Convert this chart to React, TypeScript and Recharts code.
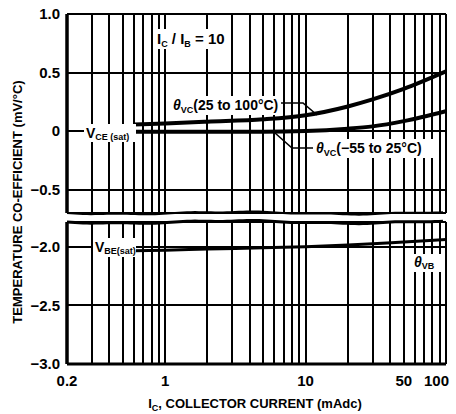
import { CartesianGrid, Line, LineChart, ReferenceLine, XAxis, YAxis } from 'recharts'

const FONT = "'Liberation Sans', Arial, Helvetica, sans-serif"

// collector current grid (mAdc), log decades 0.2 .. 100
const currentTicks = [
  0.2, 0.3, 0.4, 0.5, 0.6, 0.7, 0.8, 0.9, 1, 2, 3, 4, 5, 6, 7, 8, 9, 10, 20, 30, 40, 50, 60, 70, 80, 90, 100,
]
const labeledCurrents = [0.2, 1, 10, 50, 100]
const upperTicks = [1.0, 0.5, 0, -0.5]
const lowerTicks = [-2.0, -2.5, -3.0]

// curves
const currents = [0.6, 1, 2, 5, 10, 20, 30, 50, 100]
const thetaVcHot = [0.055, 0.065, 0.08, 0.1, 0.135, 0.21, 0.27, 0.36, 0.51] // 25 to 100°C
const thetaVcCold = [-0.005, -0.005, -0.005, -0.005, 0.0, 0.02, 0.04, 0.085, 0.17] // -55 to 25°C
const thetaVb = [-2.035, -2.03, -2.02, -2.01, -2.0, -1.985, -1.975, -1.96, -1.94]

const rows = currents.map((ic, i) => ({ ic, hot: thetaVcHot[i], cold: thetaVcCold[i], vb: thetaVb[i] }))

function fmtValue(v: number) {
  if (v === 0) return '0'
  return v < 0 ? `\u2212${Math.abs(v).toFixed(1)}` : v.toFixed(1)
}

function CurrentTick({ x, y, payload }: any) {
  const v = payload.value
  if (!labeledCurrents.includes(v)) return <g />
  const last = v === 100
  return (
    <text x={last ? x + 3 : x} y={y} dy="0.71em" textAnchor={last ? 'end' : 'middle'}
      fontFamily={FONT} fontWeight={700} fontSize={15} fill="#000">
      {String(v)}
    </text>
  )
}

function EmptyTick() {
  return <g />
}

function BreakEdge(props: any) {
  const { x1, x2, y1, stroke, strokeWidth } = props
  let d = `M${x1},${y1}`
  for (let x = x1; x <= x2; x += 4) {
    const y = y1 + 1.2 * Math.sin((x - x1) / 36) + 0.5 * Math.sin((x - x1) / 11)
    d += ` L${x},${y.toFixed(2)}`
  }
  return <path d={d} fill="none" stroke={stroke} strokeWidth={strokeWidth} />
}

const grid = { stroke: '#000', strokeWidth: 2, strokeOpacity: 1, shapeRendering: 'crispEdges' as const }
const tickStyle = { fontFamily: FONT, fontWeight: 700, fontSize: 15, fill: '#000' }

function Sub({ children }: { children: string }) {
  return <tspan fontSize={9} dy={3}>{children}</tspan>
}

export default function App() {
  return (
    <div style={{ position: 'absolute', left: 0, top: 0, width: 456, height: 414, background: '#fff' }}>
      <div style={{ position: 'absolute', left: 0, top: 0 }}>
        <LineChart width={456} height={216} data={rows} margin={{ top: 14, right: 10, bottom: 3, left: 7 }}>
          <CartesianGrid {...grid} />
          <XAxis dataKey="ic" type="number" scale="log" domain={[0.2, 100]} ticks={currentTicks} interval={0}
            allowDataOverflow height={0} tick={<EmptyTick />} tickLine={false} axisLine={false} />
          <YAxis type="number" domain={[-0.7, 1.0]} ticks={upperTicks} interval={0} width={60}
            tickFormatter={fmtValue} tick={tickStyle} tickSize={0} tickMargin={7}
            axisLine={{ stroke: '#000', strokeWidth: 3.5 }} tickLine={false} />
          <ReferenceLine y={-0.7} stroke="#000" strokeWidth={2} ifOverflow="visible" shape={BreakEdge} />
          <Line dataKey="hot" type="monotone" stroke="#000" strokeWidth={4} dot={false} isAnimationActive={false} />
          <Line dataKey="cold" type="monotone" stroke="#000" strokeWidth={4} dot={false} isAnimationActive={false} />
        </LineChart>
      </div>
      <div style={{ position: 'absolute', left: 0, top: 216 }}>
        <LineChart width={456} height={198} data={rows} margin={{ top: 6, right: 10, bottom: 20, left: 7 }}>
          <CartesianGrid {...grid} />
          <XAxis dataKey="ic" type="number" scale="log" domain={[0.2, 100]} ticks={currentTicks} interval={0}
            allowDataOverflow height={30} tick={<CurrentTick />} tickSize={0} tickMargin={11}
            tickLine={false} axisLine={{ stroke: '#000', strokeWidth: 3 }} />
          <YAxis type="number" domain={[-3.0, -1.79]} ticks={lowerTicks} interval={0} width={60}
            allowDataOverflow tickFormatter={fmtValue} tick={tickStyle} tickSize={0} tickMargin={7}
            axisLine={{ stroke: '#000', strokeWidth: 3.5 }} tickLine={false} />
          <ReferenceLine y={-1.79} stroke="#000" strokeWidth={3} ifOverflow="visible" shape={BreakEdge} />
          <Line dataKey="vb" type="monotone" stroke="#000" strokeWidth={3} dot={false} isAnimationActive={false} />
        </LineChart>
      </div>
      <svg width={456} height={414} style={{ position: 'absolute', left: 0, top: 0, pointerEvents: 'none' }}
        fontFamily={FONT} fontWeight={700} fill="#000">
        <text x={17} y={202} transform="rotate(-90 17 202)" textAnchor="middle" dominantBaseline="central" fontSize={13}>
          TEMPERATURE CO-EFFICIENT (mV/°C)
        </text>
        <text x={255} y={408} textAnchor="middle" fontSize={13}>
          I<Sub>C</Sub><tspan dy={-3}>, COLLECTOR CURRENT (mAdc)</tspan>
        </text>

        <rect x={154} y={29} width={64} height={20} fill="#fff" />
        <text x={157} y={44} fontSize={15}>
          I<Sub>C</Sub><tspan dy={-3}> / I</tspan><Sub>B</Sub><tspan dy={-3}> = 10</tspan>
        </text>

        <rect x={170} y={96} width={110} height={19} fill="#fff" />
        <text x={173} y={110} fontSize={14}>
          <tspan fontStyle="italic">θ</tspan><Sub>VC</Sub><tspan dy={-3}>(25 to 100°C)</tspan>
        </text>
        <polyline points="281,103 303,103 317,115" fill="none" stroke="#000" strokeWidth={1.6} />

        <rect x={313} y={139} width={123} height={19} fill="#fff" />
        <text x={316} y={153} fontSize={14}>
          <tspan fontStyle="italic">θ</tspan><Sub>VC</Sub><tspan dy={-3}>(−55 to 25°C)</tspan>
        </text>
        <polyline points="275,133 292,148 313,148" fill="none" stroke="#000" strokeWidth={1.6} />

        <rect x={84} y={124} width={52} height={18} fill="#fff" />
        <text x={86} y={138} fontSize={14}>
          V<tspan fontSize={9} dy={2}>CE (sat)</tspan>
        </text>

        <rect x={93} y={238} width={43} height={19} fill="#fff" />
        <text x={95} y={252} fontSize={14}>
          V<tspan fontSize={9} dy={2}>BE(sat)</tspan>
        </text>

        <rect x={411} y={254} width={32} height={18} fill="#fff" />
        <text x={414} y={267} fontSize={14}>
          <tspan fontStyle="italic">θ</tspan><tspan fontSize={9} dy={2}>VB</tspan>
        </text>
      </svg>
    </div>
  )
}
